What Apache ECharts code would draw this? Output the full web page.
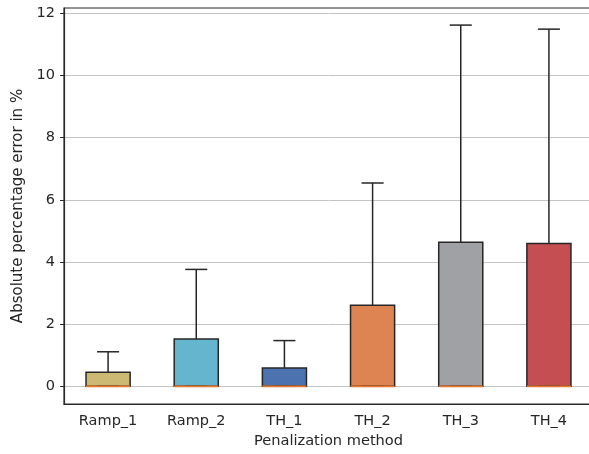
<!DOCTYPE html>
<html>
<head>
<meta charset="utf-8">
<script src="https://cdn.jsdelivr.net/npm/echarts@6/dist/echarts.min.js"></script>
<style>
  html, body { margin: 0; padding: 0; background: #fff; overflow: hidden; }
  #chart { width: 594px; height: 454px; }
</style>
</head>
<body>
<div id="chart"></div>
<script>
// categories and five-number summaries
const methods = ['Ramp_1', 'Ramp_2', 'TH_1', 'TH_2', 'TH_3', 'TH_4']
const lowWhisker = [0, 0, 0, 0, 0, 0]
const q1Values = [0, 0, 0, 0, 0, 0]
const medianValues = [0, 0, 0, 0, 0, 0]
const q3Values = [0.45, 1.52, 0.59, 2.61, 4.63, 4.59]
const highWhisker = [1.11, 3.76, 1.47, 6.54, 11.62, 11.49]
const yTicks = [0, 2, 4, 6, 8, 10, 12]
const boxColors = ['#ccb974', '#64b5cd', '#4c72b0', '#dd8452', '#a0a1a5', '#c44e52']

const textColor = '#262626'
const edgeColor = '#262626'
const medianColor = '#e8782f'

let seriesData = methods.map((m, i) => [i, lowWhisker[i], q1Values[i], medianValues[i], q3Values[i], highWhisker[i]])

const option = {
    animation: false,
    grid: {
        left: 64,
        right: 1,
        top: 8,
        bottom: 48,
        show: true,
        borderColor: '#2a2a2a',
        borderWidth: 1.2,
        containLabel: false
    },
    xAxis: {
        type: 'category',
        data: methods,
        boundaryGap: true,
        name: 'Penalization method',
        nameLocation: 'middle',
        nameGap: 30,
        nameTextStyle: { fontFamily: 'DejaVu Sans', fontSize: 14.6, color: textColor },
        axisLine: { onZero: false, lineStyle: { color: '#2a2a2a', width: 1.2 } },
        axisTick: { alignWithLabel: true, length: 4, lineStyle: { color: '#2a2a2a', width: 1 } },
        axisLabel: { fontFamily: 'DejaVu Sans', fontSize: 14.5, color: textColor, margin: 10 },
        splitLine: { show: false }
    },
    yAxis: {
        type: 'value',
        min: -0.57,
        max: 12.17,
        name: 'Absolute percentage error in %',
        nameLocation: 'middle',
        nameGap: 29,
        nameTextStyle: { fontFamily: 'DejaVu Sans', fontSize: 15, color: textColor },
        axisLine: { show: true, lineStyle: { color: '#2a2a2a', width: 1.2 } },
        axisTick: { show: true, length: 4, customValues: yTicks, lineStyle: { color: '#2a2a2a', width: 1 } },
        axisLabel: { fontFamily: 'DejaVu Sans', fontSize: 14.5, color: textColor, margin: 9, customValues: yTicks },
        splitLine: { show: true, lineStyle: { color: '#c4c4c4', width: 1 } }
    },
    series: [{
        type: 'custom',
        data: seriesData,
        encode: { x: 0, y: [1, 2, 3, 4, 5] },
        renderItem: function (params, api) {
            const x = api.value(0)
            const lo = api.coord([x, api.value(1)])
            const q1 = api.coord([x, api.value(2)])
            const med = api.coord([x, api.value(3)])
            const q3 = api.coord([x, api.value(4)])
            const hi = api.coord([x, api.value(5)])
            const band = api.size([1, 0])[0]
            const boxW = band * 0.5
            const capW = band * 0.25
            const line = (x1, y1, x2, y2, color, w) => ({
                type: 'line',
                shape: { x1: x1, y1: y1, x2: x2, y2: y2 },
                style: { stroke: color, lineWidth: w }
            })
            return {
                type: 'group',
                children: [
                    {
                        type: 'rect',
                        shape: { x: q1[0] - boxW / 2, y: q3[1], width: boxW, height: q1[1] - q3[1] },
                        style: { fill: boxColors[params.dataIndex], stroke: edgeColor, lineWidth: 1.5 }
                    },
                    line(q3[0], q3[1], hi[0], hi[1], edgeColor, 1.5),
                    line(lo[0], q1[1], lo[0], lo[1], edgeColor, 1.5),
                    line(hi[0] - capW / 2, hi[1], hi[0] + capW / 2, hi[1], edgeColor, 1.5),
                    line(lo[0] - capW / 2, lo[1], lo[0] + capW / 2, lo[1], edgeColor, 1.5),
                    line(med[0] - boxW / 2, med[1], med[0] + boxW / 2, med[1], medianColor, 1.8)
                ]
            }
        }
    }]
}

let myChart = echarts.init(document.getElementById('chart'))
myChart.setOption(option, true)
</script>
</body>
</html>
